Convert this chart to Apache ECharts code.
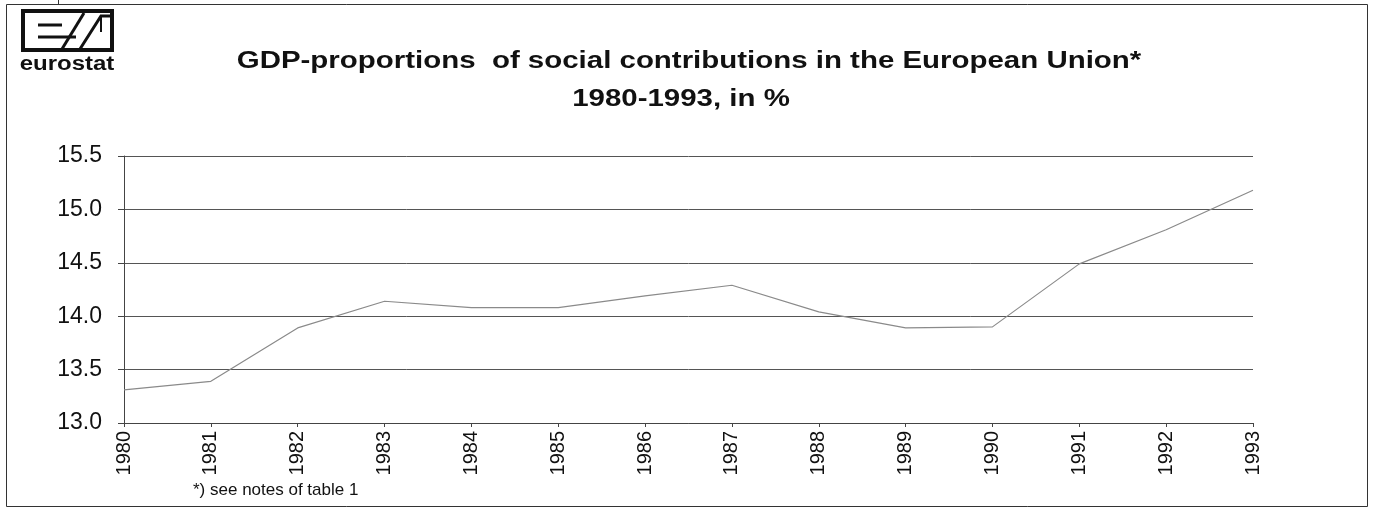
<!DOCTYPE html>
<html>
<head>
<meta charset="utf-8">
<script src="https://cdn.jsdelivr.net/npm/echarts@6/dist/echarts.min.js"></script>
<style>
html,body{margin:0;padding:0;background:#fff;}
#chart{width:1373px;height:508px;}
</style>
</head>
<body>
<div id="chart"></div>
<script>
// Years on the category axis
const years = ['1980','1981','1982','1983','1984','1985','1986','1987','1988','1989','1990','1991','1992','1993'];
// Social contributions as % of GDP, EU
const gdpShare = [13.31, 13.39, 13.89, 14.14, 14.08, 14.08, 14.19, 14.29, 14.04, 13.89, 13.90, 14.49, 14.81, 15.18];
// Value axis range
const yMin = 13.0;
const yMax = 15.5;
const yStep = 0.5;

const titleLine1 = 'GDP-proportions  of social contributions in the European Union*';
const titleLine2 = '1980-1993, in %';
const footnote = '*) see notes of table 1';

const chart = echarts.init(document.getElementById('chart'), null, {renderer: 'canvas'});
const font = '"Liberation Sans", Arial, sans-serif';
const ink = '#111';

function stroke(points, w) {
  return {type: 'polyline', shape: {points: points}, style: {stroke: ink, lineWidth: w || 3, fill: 'none'}};
}

chart.setOption({
  animation: false,
  backgroundColor: '#fff',
  grid: {left: 124, right: 120, top: 156, bottom: 85},
  xAxis: {
    type: 'category',
    data: years,
    boundaryGap: false,
    axisLine: {lineStyle: {color: '#444', width: 1}},
    axisTick: {show: true, length: 4, lineStyle: {color: '#444'}},
    axisLabel: {rotate: 90, color: ink, fontFamily: font, fontSize: 20, margin: 8}
  },
  yAxis: {
    type: 'value',
    min: yMin, max: yMax, interval: yStep,
    axisLine: {show: true, lineStyle: {color: '#444'}},
    axisTick: {show: true, length: 6, lineStyle: {color: '#444'}},
    splitLine: {lineStyle: {color: '#555', width: 1}},
    axisLabel: {color: ink, fontFamily: font, fontSize: 23, margin: 22,
      formatter: v => v.toFixed(1)}
  },
  series: [{
    type: 'line',
    data: gdpShare,
    symbol: 'none',
    lineStyle: {color: '#8a8a8a', width: 1.2}
  }],
  graphic: [
    // page frame
    {type: 'rect', shape: {x: 6.5, y: 4.5, width: 1361, height: 502}, style: {fill: 'none', stroke: '#333', lineWidth: 1}},
    {type: 'line', shape: {x1: 58.5, y1: 0, x2: 58.5, y2: 4}, style: {stroke: '#333', lineWidth: 1}},
    // eurostat emblem
    {type: 'group', x: 0, y: 0, children: [
      {type: 'rect', shape: {x: 23, y: 11, width: 89, height: 39}, style: {fill: '#fff', stroke: ink, lineWidth: 4}},
      stroke([[38, 25], [62, 25]]),
      stroke([[38, 37], [76, 37]]),
      stroke([[62, 49], [84, 13]]),
      stroke([[80, 49], [101, 16], [110, 16]]),
      stroke([[101, 16], [101, 32]], 2),
      {type: 'text', x: 67, y: 64, scaleX: 1.2, style: {x: 0, y: 0, text: 'eurostat', textAlign: 'center', textVerticalAlign: 'middle', font: 'bold 20px ' + font, fill: ink}}
    ]},
    {type: 'text', x: 689, y: 62, scaleX: 1.28, style: {x: 0, y: 0, text: titleLine1, textAlign: 'center', textVerticalAlign: 'middle', font: 'bold 23px ' + font, fill: ink}},
    {type: 'text', x: 681, y: 100, scaleX: 1.28, style: {x: 0, y: 0, text: titleLine2, textAlign: 'center', textVerticalAlign: 'middle', font: 'bold 23px ' + font, fill: ink}},
    {type: 'text', style: {x: 193, y: 482, text: footnote, font: '17px ' + font, fill: ink}}
  ]
});
</script>
</body>
</html>
